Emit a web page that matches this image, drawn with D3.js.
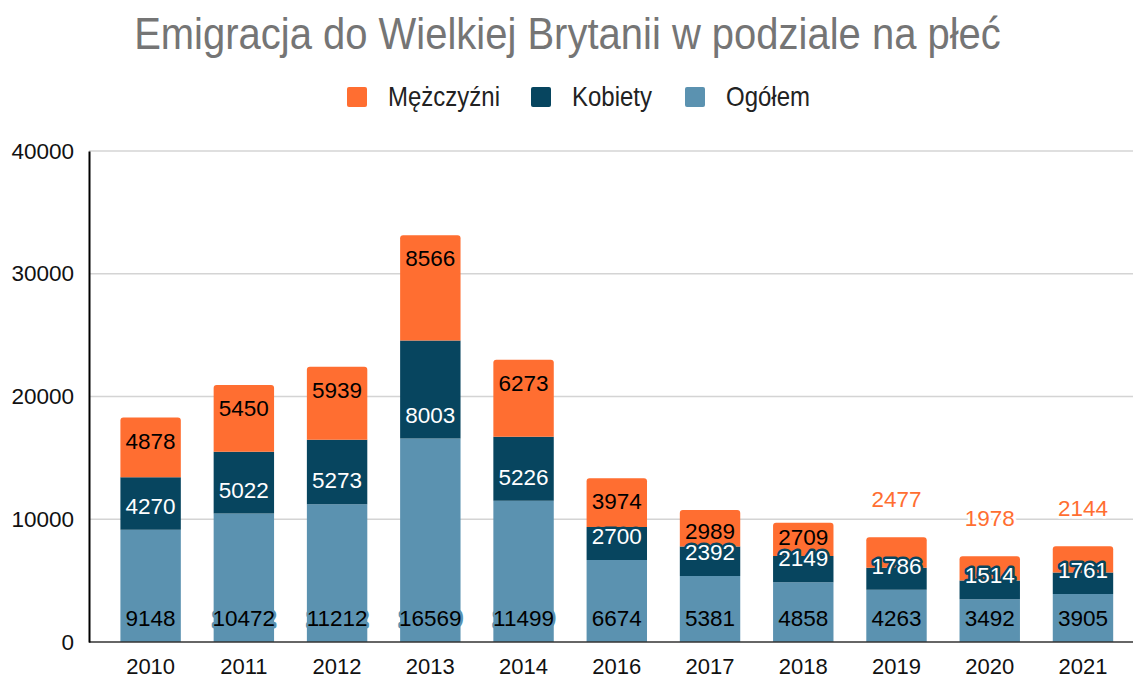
<html><head><meta charset="UTF-8">
  <style>
    body {
      margin: 0;
      background: white;
      font-family: "Liberation Sans", Arial, Helvetica, sans-serif;
    }
    svg text {
      font-family: "Liberation Sans", Arial, Helvetica, sans-serif;
    }
  </style>
</head>
<body>
  <svg id="chart">
    <g id="grid"></g>
    <g id="bars"></g>
    <g id="labels"></g>
    <g id="xAxis"></g>
    <g id="yAxis"></g>
    <g id="legend"></g>
  </svg>
  <script src="https://cdnjs.cloudflare.com/ajax/libs/d3/7.8.5/d3.min.js"></script>
  <script>
    // dane z wykresu
    var years = ["2010", "2011", "2012", "2013", "2014", "2016", "2017", "2018", "2019", "2020", "2021"];
    var ogolem = [9148, 10472, 11212, 16569, 11499, 6674, 5381, 4858, 4263, 3492, 3905];
    var kobiety = [4270, 5022, 5273, 8003, 5226, 2700, 2392, 2149, 1786, 1514, 1761];
    var mezczyzni = [4878, 5450, 5939, 8566, 6273, 3974, 2989, 2709, 2477, 1978, 2144];
    var yTicks = [0, 10000, 20000, 30000, 40000];
    var seriesNames = ["Mężczyźni", "Kobiety", "Ogółem"];
    var title = "Emigracja do Wielkiej Brytanii w podziale na płeć";

    var width = 1135, height = 678;
    var colors = {ogolem: "#5b92b0", kobiety: "#07455f", mezczyzni: "#ff6e31"};
    var legendColors = [colors.mezczyzni, colors.kobiety, colors.ogolem];

    var svg = d3.select("#chart")
      .attr("width", width)
      .attr("height", height);

    var rows = years.map(function (y, i) {
      return {year: y, ogolem: ogolem[i], kobiety: kobiety[i], mezczyzni: mezczyzni[i]};
    });
    var stacked = d3.stack().keys(["ogolem", "kobiety", "mezczyzni"])(rows);

    // skale
    var xScale = d3.scaleBand()
      .domain(years)
      .range([104, 1129.6])
      .paddingInner(0.352)
      .paddingOuter(0.176);
    var yScale = d3.scaleLinear()
      .domain([0, 40000])
      .range([642, 151]);

    var plotLeft = 89, plotRight = 1133;

    // linie siatki
    d3.select("#grid").selectAll("line")
      .data(yTicks.slice(1))
      .enter().append("line")
      .attr("x1", plotLeft).attr("x2", plotRight)
      .attr("y1", function (d) { return yScale(d); })
      .attr("y2", function (d) { return yScale(d); })
      .attr("stroke", "#d4d4d4")
      .attr("stroke-width", 1.5);

    // slupki
    var r = 3;
    stacked.forEach(function (layer) {
      var key = layer.key;
      var g = d3.select("#bars").append("g").attr("fill", colors[key]);
      g.selectAll("path")
        .data(layer)
        .enter().append("path")
        .attr("d", function (d) {
          var x0 = xScale(d.data.year), x1 = x0 + xScale.bandwidth();
          var y0 = yScale(d[0]), y1 = yScale(d[1]);
          if (key !== "mezczyzni") {
            return "M" + x0 + "," + y0 + "V" + y1 + "H" + x1 + "V" + y0 + "Z";
          }
          return "M" + x0 + "," + y0 + "V" + (y1 + r) + "Q" + x0 + "," + y1 + " " + (x0 + r) + "," + y1 +
            "H" + (x1 - r) + "Q" + x1 + "," + y1 + " " + x1 + "," + (y1 + r) + "V" + y0 + "Z";
        });
    });

    // etykiety danych
    var labels = [];
    rows.forEach(function (d, i) {
      var cx = xScale(d.year) + xScale.bandwidth() / 2;
      var base = yScale(0);
      var ogTop = yScale(d.ogolem);
      var top = yScale(d.ogolem + d.kobiety + d.mezczyzni);
      labels.push({x: cx, y: base - 24, text: d.ogolem, fill: "#000", halo: colors.ogolem});
      var kobY = ogTop - 24;
      labels.push({x: cx, y: kobY, text: d.kobiety, fill: "#fff", halo: colors.kobiety});
      var mY = Math.min(top + 23, kobY - 21);
      if (mY - 10 < top) {
        // za malo miejsca - etykieta nad slupkiem
        labels.push({x: cx, y: top - 38, text: d.mezczyzni, fill: colors.mezczyzni, halo: "#fff"});
      } else {
        labels.push({x: cx, y: mY, text: d.mezczyzni, fill: "#000", halo: colors.mezczyzni});
      }
    });

    d3.select("#labels").selectAll("text")
      .data(labels)
      .enter().append("text")
      .attr("x", function (d) { return d.x; })
      .attr("y", function (d) { return d.y; })
      .attr("dy", "0.36em")
      .attr("text-anchor", "middle")
      .attr("font-size", "22.5px")
      .attr("fill", function (d) { return d.fill; })
      .attr("stroke", function (d) { return d.halo; })
      .attr("stroke-width", 5)
      .attr("stroke-linejoin", "round")
      .attr("paint-order", "stroke")
      .text(function (d) { return d.text; });

    // os X
    var xAxis = d3.axisBottom(xScale).tickSize(0).tickPadding(16);
    d3.select("#xAxis")
      .attr("transform", "translate(0," + yScale(0) + ")")
      .call(xAxis);
    d3.select("#xAxis .domain").remove();
    d3.select("#xAxis").append("line")
      .attr("x1", plotLeft).attr("x2", plotRight)
      .attr("y1", 0).attr("y2", 0)
      .attr("stroke", "#333").attr("stroke-width", 1.5);
    d3.select("#xAxis").selectAll("text")
      .attr("font-size", "22px")
      .attr("fill", "#111")
      .attr("font-family", null);

    // os Y
    var yAxis = d3.axisLeft(yScale).tickValues(yTicks).tickSize(0).tickPadding(15)
      .tickFormat(function (d) { return String(d); });
    d3.select("#yAxis")
      .attr("transform", "translate(" + plotLeft + ",0)")
      .call(yAxis);
    d3.select("#yAxis .domain")
      .attr("stroke", "#000").attr("stroke-width", 2);
    d3.select("#yAxis").selectAll("text")
      .attr("font-size", "22.5px")
      .attr("fill", "#111")
      .attr("font-family", null);

    // tytul
    svg.append("text")
      .attr("transform", "translate(" + (width / 2) + ",49) scale(1,1.1)")
      .attr("text-anchor", "middle")
      .attr("font-size", "40px")
      .attr("fill", "#757575")
      .text(title);

    // legenda
    var legendX = [347, 531, 685];
    var legend = d3.select("#legend").selectAll("g")
      .data(seriesNames)
      .enter().append("g")
      .attr("transform", function (d, i) { return "translate(" + legendX[i] + ",87)"; });
    legend.append("rect")
      .attr("width", 20).attr("height", 20)
      .attr("rx", 2)
      .attr("fill", function (d, i) { return legendColors[i]; });
    legend.append("text")
      .attr("transform", "translate(41,19) scale(1,1.12)")
      .attr("font-size", "24px")
      .attr("fill", "#222")
      .text(function (d) { return d; });
  </script>
</body></html>
